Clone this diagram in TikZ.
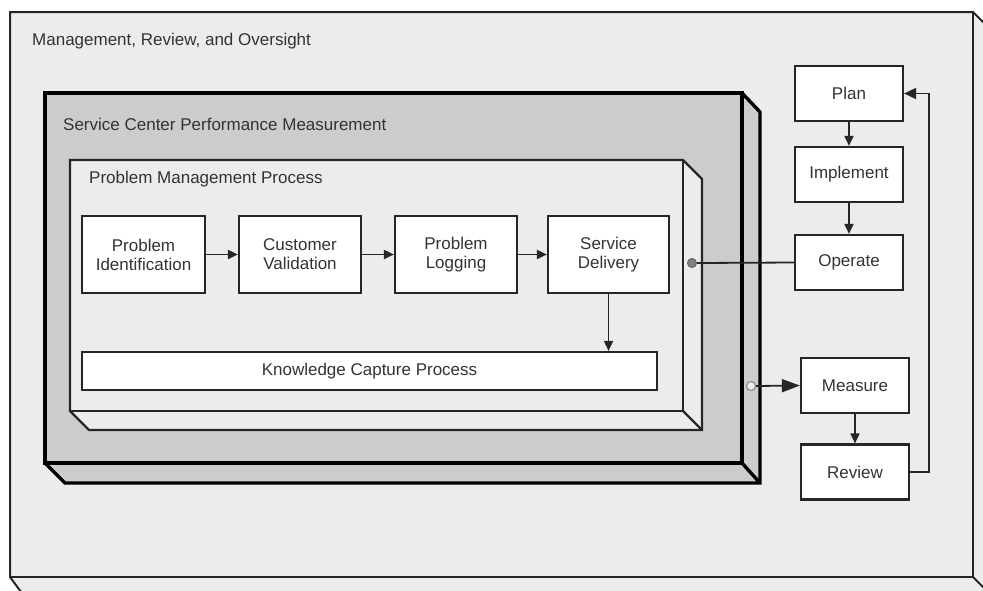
\documentclass[tikz,border=0pt]{standalone}
\usepackage{fontspec}
\setmainfont{Liberation Sans}
\usetikzlibrary{arrows.meta}
\definecolor{outerfill}{HTML}{ECECEC}
\definecolor{midfill}{HTML}{CCCCCC}
\definecolor{txt}{HTML}{333333}
\definecolor{edge}{HTML}{262626}
\tikzset{
  box/.style={draw=edge, line width=2.2pt, fill=white, text=txt, align=center,
    font=\fontsize{17}{19}\selectfont, inner sep=2pt},
  title/.style={anchor=base west, inner sep=0pt, text=txt, font=\fontsize{17}{19}\selectfont},
  conn/.style={draw=edge, line width=1.8pt},
  arr/.style={conn, -{Triangle[length=10pt,width=9pt]}},
}
\begin{document}
\begin{tikzpicture}[x=1pt,y=-1pt]
\useasboundingbox (0,0) rectangle (983,590);
\fill[white] (0,0) rectangle (983,590);
% outer box
\filldraw[fill=outerfill, draw=edge, line width=2pt]
  (10,12) -- (973,12) -- (990,29) -- (990,600) -- (27,600) -- (10,577) -- cycle;
\draw[draw=edge, line width=2pt] (10,12) rectangle (973,577);
\draw[draw=edge, line width=2pt] (973,577) -- (990,594);
\node[title] (t1) at (32,45) {Management, Review, and Oversight};
% service center box
\filldraw[fill=midfill, draw=black, line width=3.4pt, line join=miter]
  (45,93) -- (742,93) -- (760,112) -- (760,483) -- (65,483) -- (45,463) -- cycle;
\draw[black, line width=3.4pt] (45,93) rectangle (742,463);
\draw[black, line width=3.4pt] (742,463) -- (760,483);
\node[title] (t2) at (63,130) {Service Center Performance Measurement};
% problem management box
\filldraw[fill=outerfill, draw=edge, line width=2.4pt]
  (70,160) -- (683,160) -- (702,179) -- (702,430) -- (89,430) -- (70,411) -- cycle;
\draw[draw=edge, line width=2.4pt] (70,160) rectangle (683,411);
\draw[draw=edge, line width=2.4pt] (683,411) -- (702,430);
\node[title] (t3) at (89,183) {Problem Management Process};
% process boxes
\node[box, minimum width=123pt, minimum height=77pt] (pi) at (143.5,254.5) {Problem\\Identification};
\node[box, minimum width=122pt, minimum height=77pt] (cv) at (300,254.5) {Customer\\Validation};
\node[box, minimum width=122pt, minimum height=77pt] (pl) at (456,254.5) {Problem\\Logging};
\node[box, minimum width=121pt, minimum height=77pt] (sd) at (608.5,254.5) {Service\\Delivery};
\node[box, minimum width=575pt, minimum height=38pt] (kc) at (369.5,371) {Knowledge Capture Process};
\draw[arr] (pi.east) -- (cv.west);
\draw[arr] (cv.east) -- (pl.west);
\draw[arr] (pl.east) -- (sd.west);
\draw[arr] (sd.south) -- (sd.south |- kc.north);
% right cycle
\node[box, minimum width=108pt, minimum height=55pt] (plan) at (849,93.5) {Plan};
\node[box, minimum width=108pt, minimum height=55pt] (impl) at (849,174.5) {Implement};
\node[box, minimum width=108pt, minimum height=55pt] (oper) at (849,262.5) {Operate};
\node[box, minimum width=108pt, minimum height=55pt] (meas) at (855,385.5) {Measure};
\node[box, minimum width=108pt, minimum height=55pt] (rev) at (855,472) {Review};
\draw[arr] (plan.south) -- (impl.north);
\draw[arr] (impl.south) -- (oper.north);
\draw[arr] (meas.south) -- (rev.north);
\coordinate (fb) at (929,0);
\draw[conn, -{Triangle[length=12pt,width=11pt]}] (rev.east) -- (rev.east -| fb) |- (plan.east);
% connectors to frames
\node[circle, draw=edge!70, fill=gray, line width=1pt, inner sep=0pt, minimum size=9pt] (opc) at (692,263) {};
\draw[conn] (oper.west) -- (opc.east);
\node[circle, draw=gray, fill=outerfill, line width=1pt, inner sep=0pt, minimum size=9pt] (mc) at (751,386) {};
\draw[conn, -{Triangle[length=18pt,width=13pt]}] (mc.east) -- (meas.west);
\end{tikzpicture}
\end{document}
